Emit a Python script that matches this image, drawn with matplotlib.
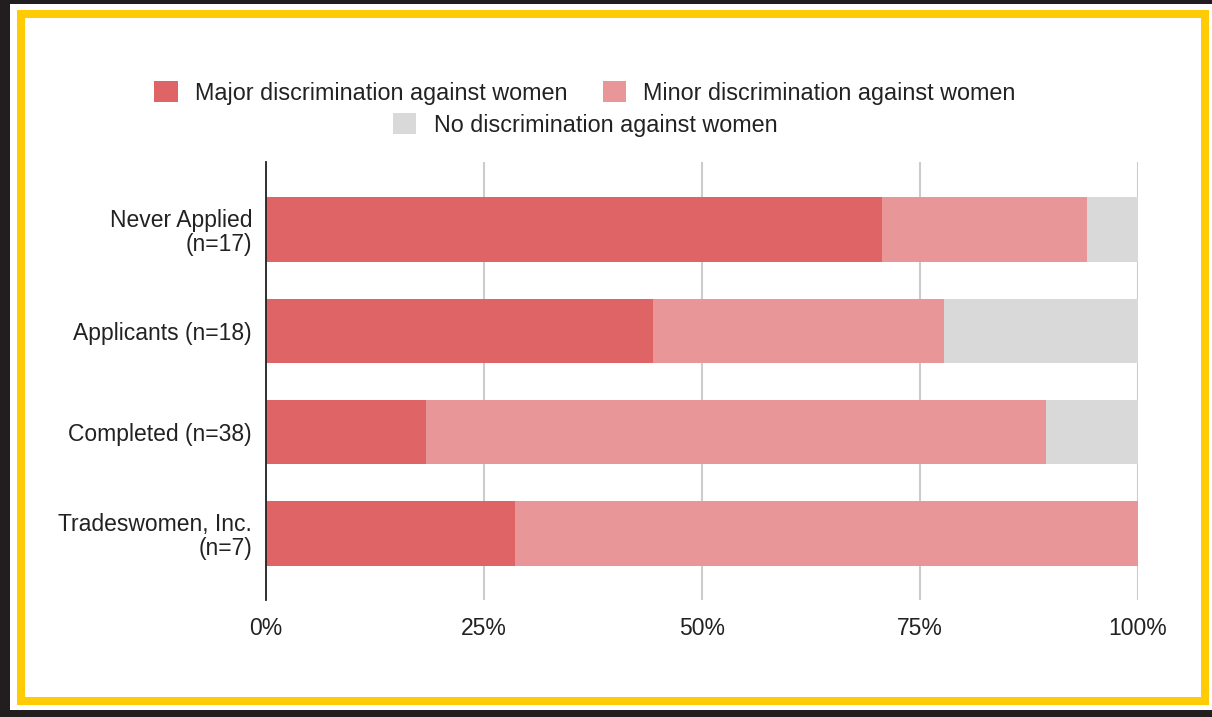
import matplotlib
matplotlib.use('Agg')
import matplotlib.pyplot as plt
from matplotlib.patches import Rectangle
from matplotlib.ticker import FuncFormatter

#%% Data

categories = ['Never Applied\n(n=17)', 'Applicants (n=18)', 'Completed (n=38)', 'Tradeswomen, Inc.\n(n=7)']
major = [70.6, 44.4, 18.4, 28.6]
minor = [23.5, 33.3, 71.1, 71.4]
none_ = [5.9, 22.3, 10.5, 0.0]
series_names = ['Major discrimination against women', 'Minor discrimination against women',
                'No discrimination against women']
x_ticks = [0, 25, 50, 75, 100]

colors = ['#de6466', '#e89698', '#d9d9d9']

W, H = 1212, 717
plt.rcParams['font.family'] = ['Liberation Sans', 'DejaVu Sans']
fs = 16.5

fig = plt.figure(figsize=(W / 100, H / 100), dpi=100)
fig.patch.set_facecolor('#221e1f')


def px_rect(x0, y0, x1, y1, color):
    # pixel coords, origin top-left
    fig.add_artist(Rectangle((x0 / W, 1 - y1 / H), (x1 - x0) / W, (y1 - y0) / H,
                             transform=fig.transFigure, facecolor=color, edgecolor='none', zorder=-10))


# frame: white line, yellow border, white inside
px_rect(10, 4, W, 710, 'white')
px_rect(17, 10, 1209, 705, '#ffcb05')
px_rect(25, 18, 1201, 697, 'white')

#%% Bars

ax = fig.add_axes([266 / W, 1 - 600 / H, (1138 - 266) / W, (600 - 162) / H])
ax.set_facecolor('none')

ypos = list(range(len(categories)))
bh = 0.64
left = [0] * len(categories)
handles = []
for vals, col, name in zip([major, minor, none_], colors, series_names):
    b = ax.barh(ypos, vals, left=left, height=bh, color=col, edgecolor='none', label=name, zorder=3)
    handles.append(b)
    left = [l + v for l, v in zip(left, vals)]

ax.set_xlim(0, 100)
ax.set_ylim(3.66, -0.67)
ax.set_yticks(ypos)
ax.set_yticklabels(categories, fontsize=fs, color='#222222', linespacing=1.05)
ax.set_xticks(x_ticks)
ax.xaxis.set_major_formatter(FuncFormatter(lambda v, p: '%d%%' % v))
ax.tick_params(axis='x', length=0, pad=12, labelsize=fs, labelcolor='#222222')
ax.tick_params(axis='y', length=0, pad=10)

ax.grid(axis='x', color='#cccccc', linewidth=1.5, zorder=0)
for s in ['top', 'right', 'bottom']:
    ax.spines[s].set_visible(False)
ax.spines['left'].set_color('#222222')
ax.spines['left'].set_linewidth(1.3)
ax.spines['left'].set_zorder(4)

#%% Legend (two rows, centered)

leg_kw = dict(frameon=False, fontsize=16.8, handlelength=1.0, handleheight=1.0,
              handletextpad=0.75, columnspacing=1.5, labelcolor='#222222')
leg1 = fig.legend(handles[:2], series_names[:2], loc='center', ncol=2,
                  bbox_to_anchor=(585 / W, 1 - 93 / H), **leg_kw)
leg2 = fig.legend(handles[2:], series_names[2:], loc='center', ncol=1,
                  bbox_to_anchor=(585 / W, 1 - 125 / H), **leg_kw)

fig.savefig('out.png', dpi=100, facecolor=fig.get_facecolor())
